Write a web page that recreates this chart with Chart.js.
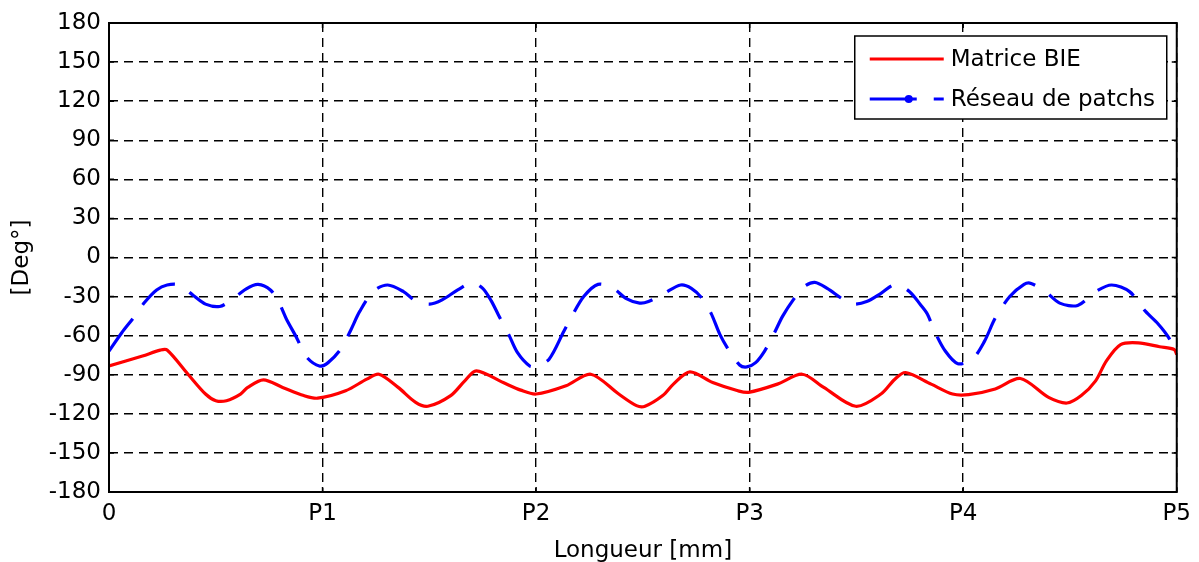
<!DOCTYPE html>
<html>
<head>
<meta charset="utf-8">
<script src="https://cdn.jsdelivr.net/npm/chart.js@4/dist/chart.umd.min.js"></script>
<style>
  html, body { margin: 0; padding: 0; background: #fff; }
  #wrap { width: 1199px; height: 562px; }
</style>
</head>
<body>
<div id="wrap"><canvas id="phaseChart"></canvas></div>
<script>
/* ===================== DATA ===================== */
const X_TICK_LABELS = ["0", "P1", "P2", "P3", "P4", "P5"];

// Matrice BIE (x in patch units, y in degrees)
const BIE_X = [0, 0.157, 0.24, 0.272, 0.37, 0.452, 0.50, 0.55, 0.616, 0.65, 0.723, 0.813, 0.912, 0.977,
  1.108, 1.207, 1.264, 1.354, 1.436, 1.493, 1.6, 1.666, 1.72, 1.846, 1.928, 2.0, 2.14, 2.256, 2.387, 2.47,
  2.51, 2.593, 2.643, 2.72, 2.827, 2.945, 2.995, 3.13, 3.246, 3.347, 3.497, 3.615, 3.68, 3.73, 3.85, 3.95,
  4.025, 4.15, 4.268, 4.4, 4.486, 4.553, 4.62, 4.67, 4.737, 4.82, 4.92, 4.988, 5.0];
const BIE_Y = [-83.3, -75.6, -71.1, -71, -89.6, -104.8, -109.9, -109.9, -104.8, -99.7, -93.9, -99.7, -106, -108,
  -102.3, -93.4, -89.6, -99.7, -111.2, -114.2, -106, -94.7, -87, -96, -101.8, -104.8, -98.5, -89.6, -104.8, -113.7,
  -114.2, -106, -97.2, -87.8, -96, -102.3, -103.5, -97.2, -89.6, -99.7, -114.2, -104.8, -93.4, -88.3, -97.2, -104.8,
  -105.3, -101, -92.9, -107.4, -111.7, -106, -94.7, -79.5, -66.8, -65.5, -68.5, -70.6, -74.4];

// Réseau de patchs
const PATCH_X = [0, 0.059, 0.116, 0.166, 0.223, 0.272, 0.33, 0.395, 0.452, 0.518, 0.575, 0.641, 0.698, 0.756,
  0.797, 0.83, 0.879, 0.925, 0.985, 1.026, 1.084, 1.133, 1.174, 1.24, 1.305, 1.379, 1.436, 1.502, 1.56, 1.633,
  1.7, 1.75, 1.79, 1.823, 1.872, 1.913, 1.97, 2.0, 2.06, 2.13, 2.167, 2.223, 2.29, 2.362, 2.42, 2.485,
  2.526, 2.6, 2.677, 2.727, 2.777, 2.819, 2.861, 2.903, 2.953, 2.987, 3.028, 3.07, 3.112, 3.154, 3.204,
  3.255, 3.305, 3.363, 3.43, 3.48, 3.548, 3.615, 3.682, 3.749, 3.8, 3.832, 3.866, 3.916, 3.975, 4.042,
  4.1, 4.15, 4.218, 4.285, 4.318, 4.385, 4.452, 4.536, 4.62, 4.695, 4.779, 4.854, 4.913, 4.963, 5.0];
const PATCH_Y = [-71.8, -57.9, -46, -34.6, -24.9, -21.1, -21.1, -29.2, -35.8, -37.6, -32.5, -24.2, -20.6, -24.9,
  -35, -47, -61.7, -76.4, -83.3, -80.7, -70.6, -55.4, -41.4, -25.7, -21.1, -26.2, -33.3, -35.8, -32.5, -24.9,
  -19.3, -23.7, -33.3, -43.9, -59.2, -73.1, -83.3, -83.3, -78.2, -56.6, -45.2, -30, -20.6, -23.7, -31.3, -35,
  -33.8, -27.5, -21.1, -23.7, -31.3, -42.7, -59.2, -71.3, -82.5, -84, -80.7, -71.8, -59.2, -45.2, -32.5,
  -22.4, -19.1, -23.7, -31.3, -35.8, -33.8, -27.5, -20.6, -26.2, -36.3, -43.4, -56.6, -71.8, -81.5, -78.2,
  -64.2, -46.5, -30, -20.6, -19.9, -26.2, -35, -36.8, -26.2, -21.1, -26.2, -41.4, -51, -61.7, -74.4];

const SERIES_LABELS = ["Matrice BIE", "Réseau de patchs"];

/* ===================== HELPERS ===================== */
const FONT = "'DejaVu Sans', Verdana, sans-serif";
const FONT_SIZE = 23;
const toPoints = (xs, ys) => xs.map((x, i) => ({ x, y: ys[i] }));

/* -------- frame, inner ticks and legend box -------- */
const framePlugin = {
  id: "frame",
  afterDraw(chart) {
    const { ctx, chartArea: a, scales } = chart;
    ctx.save();
    ctx.strokeStyle = "#000";
    ctx.lineWidth = 1.5;
    ctx.setLineDash([]);

    // inward tick marks on all four sides
    const t = 5;
    ctx.beginPath();
    scales.y.ticks.forEach(tk => {
      const py = scales.y.getPixelForValue(tk.value);
      ctx.moveTo(a.left, py); ctx.lineTo(a.left + t, py);
      ctx.moveTo(a.right, py); ctx.lineTo(a.right - t, py);
    });
    scales.x.ticks.forEach(tk => {
      const px = scales.x.getPixelForValue(tk.value);
      ctx.moveTo(px, a.bottom); ctx.lineTo(px, a.bottom - t);
      ctx.moveTo(px, a.top); ctx.lineTo(px, a.top + t);
    });
    ctx.stroke();
    ctx.lineWidth = 2;
    ctx.strokeRect(a.left, a.top, a.right - a.left, a.bottom - a.top);

    // legend box (top right, inside plot)
    const bw = 312, bh = 83;
    const bx = a.right - 10 - bw, by = a.top + 13;
    ctx.fillStyle = "#fff";
    ctx.fillRect(bx, by, bw, bh);
    ctx.lineWidth = 1.5;
    ctx.strokeRect(bx, by, bw, bh);

    ctx.font = FONT_SIZE + "px " + FONT;
    ctx.textBaseline = "middle";
    ctx.textAlign = "left";
    chart.data.datasets.forEach((ds, i) => {
      const ly = by + 23 + i * 40;
      ctx.strokeStyle = ds.borderColor;
      ctx.lineWidth = 3;
      ctx.setLineDash(i === 1 ? [47, 17] : []);
      ctx.beginPath();
      ctx.moveTo(bx + 15, ly);
      ctx.lineTo(bx + 89, ly);
      ctx.stroke();
      ctx.setLineDash([]);
      if (i === 1) {
        ctx.fillStyle = ds.borderColor;
        ctx.beginPath();
        ctx.arc(bx + 54, ly, 4, 0, Math.PI * 2);
        ctx.fill();
      }
      ctx.fillStyle = "#000";
      ctx.fillText(ds.label, bx + 96, ly + 1);
    });
    ctx.restore();
  }
};

/* ===================== CHART ===================== */
new Chart(document.getElementById("phaseChart"), {
  type: "line",
  data: {
    datasets: [
      {
        label: SERIES_LABELS[0],
        data: toPoints(BIE_X, BIE_Y),
        borderColor: "#ff0000",
        borderWidth: 3.2,
        pointRadius: 0,
        tension: 0.3
      },
      {
        label: SERIES_LABELS[1],
        data: toPoints(PATCH_X, PATCH_Y),
        borderColor: "#0000ff",
        borderWidth: 3.2,
        borderDash: [40, 17],
        pointRadius: 0,
        tension: 0.3
      }
    ]
  },
  options: {
    responsive: true,
    maintainAspectRatio: false,
    animation: false,
    layout: { padding: { top: 23, right: 19, left: 0, bottom: 0 } },
    plugins: {
      legend: { display: false },
      tooltip: { enabled: false }
    },
    scales: {
      x: {
        type: "linear",
        min: 0,
        max: 5,
        afterFit: s => { s.height = 70; },
        ticks: {
          stepSize: 1,
          padding: 8,
          color: "#000",
          font: { family: FONT, size: FONT_SIZE },
          maxRotation: 0,
          callback: v => X_TICK_LABELS[v]
        },
        grid: { color: "#000", lineWidth: 1.4, drawTicks: false },
        border: { display: false, dash: [9, 6] },
        title: {
          display: true,
          text: "Longueur [mm]",
          color: "#000",
          font: { family: FONT, size: FONT_SIZE },
          padding: { top: 0, bottom: -3 }
        }
      },
      y: {
        min: -180,
        max: 180,
        afterFit: s => { s.width = 109; },
        ticks: {
          stepSize: 30,
          padding: 8,
          color: "#000",
          font: { family: FONT, size: FONT_SIZE }
        },
        grid: { color: "#000", lineWidth: 1.4, drawTicks: false },
        border: { display: false, dash: [9, 6] },
        title: {
          display: true,
          text: "[Deg°]",
          color: "#000",
          font: { family: FONT, size: FONT_SIZE },
          padding: { top: 8, bottom: 0 }
        }
      }
    }
  },
  plugins: [framePlugin]
});
</script>
</body>
</html>
